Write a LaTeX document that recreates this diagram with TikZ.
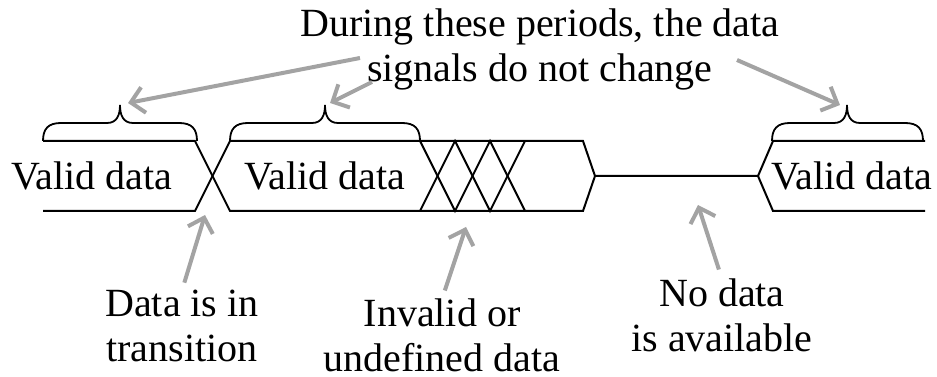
\documentclass[tikz,border=0pt]{standalone}
\usepackage{fontspec}
\setmainfont{Liberation Serif}
\usetikzlibrary{arrows.meta}
\definecolor{notegray}{RGB}{163,163,163}
\tikzset{
    signal/.style={line width=2pt, line join=miter},
    bracket/.style={line width=1.8pt},
    label/.style={font=\fontsize{40}{45}\selectfont, inner sep=0pt, align=center, anchor=base},
    pointer/.style={notegray, line width=4pt, -{Straight Barb[length=13pt,width=26pt]}}
}
% brace over a stable period: left, tip, right, base y
\newcommand{\periodbrace}[4]{%
    \draw[bracket] (#1,#4) .. controls (#1,#4+12) and (#1+5,#4+18) .. (#1+18,#4+18)
        -- (#2-13,#4+18) .. controls (#2-3,#4+18) and (#2,#4+26) .. (#2,#4+36)
        .. controls (#2,#4+26) and (#2+3,#4+18) .. (#2+13,#4+18)
        -- (#3-18,#4+18) .. controls (#3-5,#4+18) and (#3,#4+12) .. (#3,#4);}

\begin{document}
\begin{tikzpicture}[x=1pt,y=1pt]
    \useasboundingbox (0,0) rectangle (937,377);
    % bus lines
    \draw[signal] (43,166)--(195,166)--(230,236)--(583,236)--(595,201)--(758,201)--(773,236)--(925,236);
    \draw[signal] (43,236)--(195,236)--(230,166)--(583,166)--(595,201);
    \draw[signal] (758,201)--(773,166)--(925,166);
    \draw[signal] (420,236)--(455,166)--(490,236)--(525,166);
    \draw[signal] (420,166)--(455,236)--(490,166)--(525,236);
    % braces
    \periodbrace{43}{120}{197}{236}
    \periodbrace{230}{325}{420}{236}
    \periodbrace{772}{847}{923}{236}
    % texts (base = last line)
    \node[label] (valid1) at (92,187) {Valid data};
    \node[label] (valid2) at (325,187) {Valid data};
    \node[label] (valid3) at (852,187) {Valid data};
    \node[label] (title) at (540,295) {During these periods, the data\\signals do not change};
    \node[label] (trans) at (182,15) {Data is in\\transition};
    \node[label] (invalid) at (442,5) {Invalid or\\undefined data};
    \node[label] (nodata) at (722,25) {No data\\is available};
    % arrow ends
    \coordinate (from1) at (360,319);
    \coordinate (from2) at (372,295);
    \coordinate (from3) at (737,317);
    \coordinate (tip1) at (128,274);
    \coordinate (tip2) at (330,274);
    \coordinate (tip3) at (840,272);
    \coordinate (cross) at (205,162);
    \coordinate (zigzag) at (466,150);
    \coordinate (idle) at (698,172);
    \draw[pointer] (from1) -- (tip1);
    \draw[pointer] (from2) -- (tip2);
    \draw[pointer] (from3) -- (tip3);
    \draw[pointer, shorten <=8pt] (trans.north) -- (cross);
    \draw[pointer, shorten <=9pt] (invalid.north) -- (zigzag);
    \draw[pointer, shorten <=10pt] (nodata.north) -- (idle);
\end{tikzpicture}
\end{document}
